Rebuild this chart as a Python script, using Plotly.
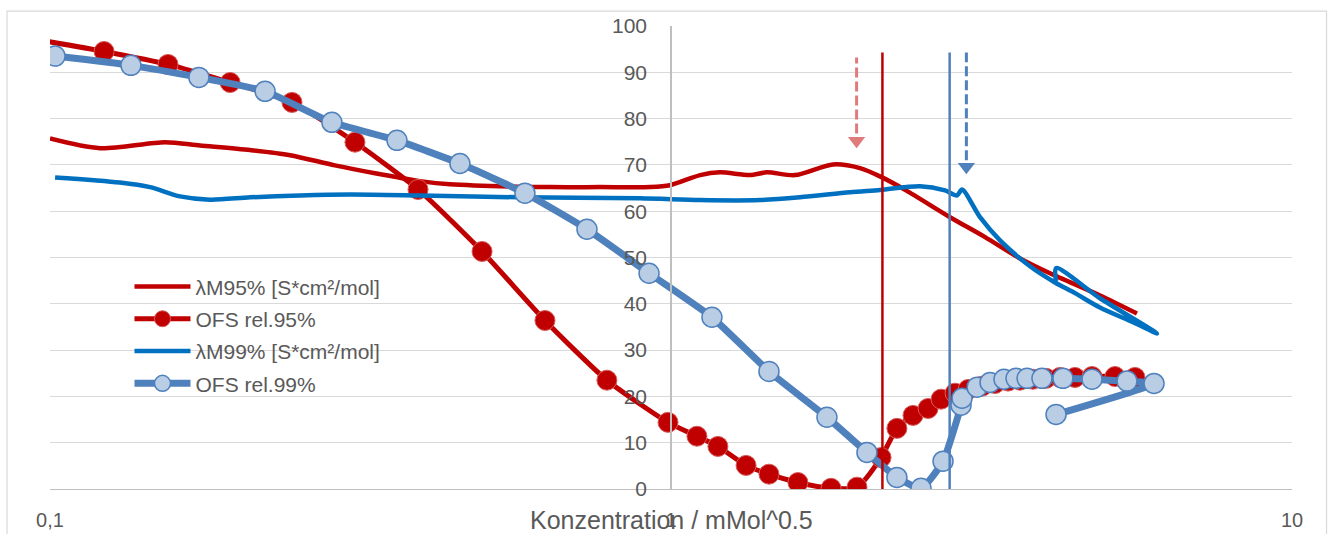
import plotly.graph_objects as go

# ---------------- data ----------------
# λM95% [S*cm²/mol]
lm95_x = [0.1, 0.1204, 0.1532, 0.1744, 0.2100, 0.2435, 0.2876, 0.3337, 0.3943, 0.4405,
          0.6386, 0.7687, 0.9252, 0.996, 1.114, 1.199, 1.340, 1.427, 1.584, 1.824,
          2.015, 2.187, 2.390, 2.814, 3.204, 3.648, 4.076, 4.907, 5.628]
lm95_y = [75.7, 73.6, 74.9, 74.2, 73.2, 72.1, 69.9, 68.2, 66.5, 65.8,
          65.2, 65.2, 65.2, 65.6, 67.8, 68.4, 67.8, 68.4, 67.8, 70.1,
          69.3, 67.3, 64.5, 58.7, 54.4, 49.8, 46.6, 41.8, 37.9]

# OFS rel.95%
ofs95_x = [0.085, 0.1222, 0.1549, 0.1950, 0.2453, 0.3098, 0.3914, 0.4963, 0.6267, 0.7885,
           0.989, 1.101, 1.190, 1.321, 1.438, 1.601, 1.810, 1.993, 2.179, 2.311,
           2.453, 2.594, 2.722, 2.867, 3.009, 3.169, 3.325, 3.489, 3.648, 3.827,
           4.017, 4.230, 4.472, 4.764, 5.188, 5.587]
ofs95_y = [98.2, 94.5, 91.7, 87.8, 83.5, 74.9, 64.7, 51.3, 36.4, 23.5,
           14.4, 11.4, 9.2, 5.1, 3.2, 1.4, 0.15, 0.4, 6.8, 13.1,
           15.9, 17.4, 19.4, 20.7, 21.5, 22.2, 22.8, 23.3, 23.5, 23.7,
           23.9, 24.1, 24.1, 24.3, 24.3, 24.1]

# λM99% [S*cm²/mol]
lm99_x = [0.1019, 0.1296, 0.1449, 0.1619, 0.1810, 0.2100, 0.2527, 0.3041, 0.3943, 0.5711,
          0.8916, 1.114, 1.391, 1.613, 1.942, 2.171, 2.518, 2.762, 2.887, 2.942,
          3.145, 3.387, 3.785, 4.153, 4.472, 4.907, 5.546, 6.062, 4.907, 4.169, 4.169]
lm99_y = [67.3, 66.2, 65.2, 63.2, 62.5, 63.0, 63.4, 63.6, 63.4, 63.0,
          62.8, 62.4, 62.4, 63.0, 64.1, 64.6, 65.4, 64.5, 63.4, 64.7,
          58.7, 53.7, 48.1, 44.6, 42.3, 39.2, 36.0, 33.6, 41.2, 47.7, 44.9]

# OFS rel.99%
ofs99_x = [0.1019, 0.1350, 0.1737, 0.2220, 0.2844, 0.3620, 0.4572, 0.5818, 0.7323, 0.9218,
           1.164, 1.438, 1.783, 2.068, 2.311, 2.527, 2.742, 2.931, 2.942, 3.111,
           3.264, 3.437, 3.594, 3.744, 3.957, 4.277, 4.764, 5.424, 5.995, 4.169]
ofs99_y = [93.5, 91.5, 88.9, 85.9, 79.2, 75.3, 70.3, 63.9, 56.1, 46.6,
           37.1, 25.4, 15.5, 7.9, 2.5, 0.15, 6.0, 18.1, 19.6, 22.0,
           23.0, 23.7, 23.9, 23.9, 23.9, 23.9, 23.7, 23.3, 22.8, 16.1]

series_names = ["λM95% [S*cm²/mol]", "OFS rel.95%", "λM99% [S*cm²/mol]", "OFS rel.99%"]

# marker lines (solid) and arrows (dashed)
vline_x = [2.19, 2.81]
vline_y = [-7.4, 94.3]
arrow_x = [1.99, 2.99]
arrow_top = [93.2, 94.3]
arrow_bottom = [76.8, 71.0]
arrow_tip = [75.2, 69.6]

x_tick_vals = [0.1, 1, 10]
x_tick_labels = ["0,1", "1", "10"]
x_title = "Konzentration / mMol^0.5"

# ---------------- styles ----------------
RED = "#C00000"
BLUE = "#0070C0"
BLUE2 = "#4F81BD"
BLUE_FILL = "#B9CDE5"
RED_LIGHT = "#E07B7B"
GRID = "#D9D9D9"
TXT = "#595959"
FONT = "Liberation Sans, Arial, sans-serif"

fig = go.Figure()

fig.add_trace(go.Scatter(
    x=lm95_x, y=lm95_y, name=series_names[0], mode="lines",
    line=dict(color=RED, width=4.5, shape="spline", smoothing=0.8),
    legendgroup="a", hoverinfo="skip"))
fig.add_trace(go.Scatter(
    x=ofs95_x, y=ofs95_y, name=series_names[1], mode="lines+markers",
    line=dict(color=RED, width=5, shape="spline", smoothing=0.6),
    marker=dict(size=20, color=RED, line=dict(color="#D65B5B", width=1)),
    legendgroup="b", hoverinfo="skip"))
fig.add_trace(go.Scatter(
    x=lm99_x, y=lm99_y, name=series_names[2], mode="lines",
    line=dict(color=BLUE, width=4.5, shape="spline", smoothing=0.8),
    legendgroup="c", hoverinfo="skip"))
fig.add_trace(go.Scatter(
    x=ofs99_x, y=ofs99_y, name=series_names[3], mode="lines+markers",
    line=dict(color=BLUE2, width=7, shape="spline", smoothing=0.5),
    marker=dict(size=20, color=BLUE_FILL, line=dict(color=BLUE2, width=1.5)),
    legendgroup="d", hoverinfo="skip"))

# arrow heads
fig.add_trace(go.Scatter(
    x=arrow_x, y=arrow_tip, mode="markers", showlegend=False, hoverinfo="skip",
    cliponaxis=False,
    marker=dict(symbol="triangle-down", size=15, color=[RED_LIGHT, BLUE2], line=dict(width=0))))

shapes = []
# outer chart border
shapes.append(dict(type="rect", xref="paper", yref="paper", x0=-0.0346, x1=1.0278,
                   y0=-0.25, y1=1.032, line=dict(color=GRID, width=1.2), layer="below"))
for xv, col in zip(vline_x, [RED, BLUE2]):
    shapes.append(dict(type="line", xref="x", yref="y", x0=xv, x1=xv,
                       y0=vline_y[0], y1=vline_y[1], line=dict(color=col, width=2.5)))
for xv, yt, yb, col in zip(arrow_x, arrow_top, arrow_bottom, [RED_LIGHT, BLUE2]):
    shapes.append(dict(type="line", xref="x", yref="y", x0=xv, x1=xv, y0=yb, y1=yt,
                       line=dict(color=col, width=3, dash="10px,4px")))

fig.update_layout(
    width=1328, height=534,
    margin=dict(l=50, r=36, t=26, b=45, pad=0, autoexpand=False),
    paper_bgcolor="white", plot_bgcolor="white",
    separators=", ",
    font=dict(family=FONT, color=TXT, size=20),
    showlegend=True,
    legend=dict(x=0.064, y=0.481, xanchor="left", yanchor="top",
                font=dict(size=21, color=TXT, family=FONT),
                bgcolor="rgba(0,0,0,0)", tracegroupgap=2, itemwidth=56,
                traceorder="grouped"),
    shapes=shapes,
    annotations=[dict(text=x_title, xref="paper", yref="paper", x=0.5, y=-0.067,
                      xanchor="center", yanchor="middle", showarrow=False,
                      font=dict(size=25, color=TXT, family=FONT))],
    xaxis=dict(type="log", range=[-1, 1], tickvals=x_tick_vals, ticktext=x_tick_labels,
               automargin=False,
               showgrid=True, gridcolor=GRID, gridwidth=1, showline=True,
               linecolor="#BFBFBF", linewidth=1.3, zeroline=False, ticks="",
               ticklabelstandoff=13, tickfont=dict(size=20, color=TXT)),
    yaxis=dict(range=[0, 100], dtick=10, anchor="free", position=0.5,
               automargin=False,
               showgrid=True, gridcolor=GRID, gridwidth=1.3, showline=True,
               linecolor="#BFBFBF", linewidth=1.5, zeroline=False, ticks="",
               ticklabelstandoff=19, tickfont=dict(size=21, color=TXT)),
)

fig.write_html("out.html")
